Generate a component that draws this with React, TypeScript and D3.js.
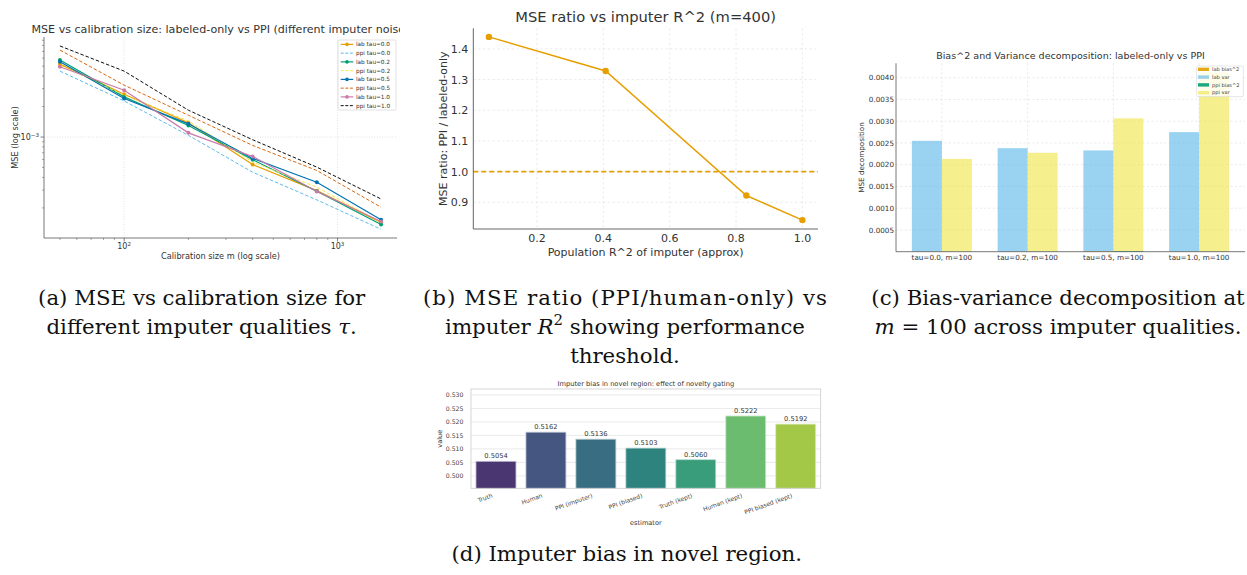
import * as React from 'react';
import * as d3 from 'd3';

// (a) MSE vs calibration size (log-log)
const calibSizes = [50, 100, 200, 400, 800, 1600];
const labTau00 = [0.00524, 0.00264, 0.00138, 0.000536, 0.000296, 0.000144];
const ppiTau00 = [0.00447, 0.00227, 0.00104, 0.00045, 0.00024, 0.000123];
const labTau02 = [0.00574, 0.00249, 0.0013, 0.000597, 0.000292, 0.000137];
const ppiTau02 = [0.00512, 0.00259, 0.00144, 0.000566, 0.00032, 0.000144];
const labTau05 = [0.00553, 0.0024, 0.00135, 0.000615, 0.000358, 0.000153];
const ppiTau05 = [0.00721, 0.00325, 0.00164, 0.000827, 0.000468, 0.000203];
const labTau10 = [0.00493, 0.0029, 0.0011, 0.000644, 0.00029, 0.000147];
const ppiTau10 = [0.00791, 0.00447, 0.00184, 0.000941, 0.000505, 0.000245];
const seriesLabelsA = [
  'lab tau=0.0', 'ppi tau=0.0', 'lab tau=0.2', 'ppi tau=0.2',
  'lab tau=0.5', 'ppi tau=0.5', 'lab tau=1.0', 'ppi tau=1.0',
];

// (b) MSE ratio vs imputer R^2
const r2Values = [0.055, 0.407, 0.831, 1.0];
const mseRatio = [1.439, 1.328, 0.922, 0.842];
const ratioXTicks = [0.2, 0.4, 0.6, 0.8, 1.0];
const ratioYTicks = [0.9, 1.0, 1.1, 1.2, 1.3, 1.4];

// (c) bias^2 / variance decomposition at m=100
const decompCategories = ['tau=0.0, m=100', 'tau=0.2, m=100', 'tau=0.5, m=100', 'tau=1.0, m=100'];
const labBias2 = [0.000003, 0.000002, 0.000012, 0.000004];
const labVar = [0.002546, 0.002378, 0.002316, 0.002745];
const ppiBias2 = [0.000002, 0.000004, 0.000015, 0.000003];
const ppiVar = [0.002132, 0.00227, 0.003051, 0.00412];
const decompLabels = ['lab bias^2', 'lab var', 'ppi bias^2', 'ppi var'];
const decompYTicks = [0.0005, 0.001, 0.0015, 0.002, 0.0025, 0.003, 0.0035, 0.004];

// (d) imputer bias in novel region
const estimators = ['Truth', 'Human', 'PPI (imputer)', 'PPI (biased)', 'Truth (kept)', 'Human (kept)', 'PPI biased (kept)'];
const estimateValues = [0.5054, 0.5162, 0.5136, 0.5103, 0.506, 0.5222, 0.5192];
const estimateYTicks = [0.5, 0.505, 0.51, 0.515, 0.52, 0.525, 0.53];

const OKABE = ['#E69F00', '#56B4E9', '#009E73', '#F0E442', '#0072B2', '#D55E00', '#CC79A7', '#000000'];
// seaborn viridis(7) with 0.75 saturation
const VIRIDIS_MUTED = ['#4a3771', '#455681', '#386d82', '#2f837f', '#399d7b', '#6bbc6e', '#a3c746'];

const SANS = "'DejaVu Sans', sans-serif";
const SERIF = "'DejaVu Serif', serif";
const TEXT = '#333333';
const SPINE = '#555555';

type G = d3.Selection<SVGGElement, unknown, null, undefined>;

function supText(g: G, x: number, y: number, base: string, sup: string, size: number, anchor: string) {
  const t = g.append('text')
    .attr('x', x).attr('y', y)
    .attr('text-anchor', anchor)
    .style('font-size', `${size}px`)
    .attr('fill', TEXT);
  t.append('tspan').text(base);
  t.append('tspan').attr('dy', -size * 0.42).style('font-size', `${size * 0.7}px`).text(sup);
}

function drawPanelA(g: G) {
  const L = 44, R = 397, T = 37, B = 238;
  const x = d3.scaleLog().domain([42.1, 1900]).range([L, R]);
  const y = d3.scaleLog().domain([1.01e-4, 9.7e-3]).range([B, T]);

  // grid
  const grid = g.append('g')
    .attr('stroke', '#cfcfcf').attr('stroke-width', 0.6).attr('stroke-dasharray', '1,1.6');
  [100, 1000].forEach((v) => grid.append('line').attr('x1', x(v)).attr('x2', x(v)).attr('y1', T).attr('y2', B));
  grid.append('line').attr('x1', L).attr('x2', R).attr('y1', y(1e-3)).attr('y2', y(1e-3));

  // series
  const all = [labTau00, ppiTau00, labTau02, ppiTau02, labTau05, ppiTau05, labTau10, ppiTau10];
  const line = d3.line<number>().x((_, j) => x(calibSizes[j])).y((d) => y(d));
  all.forEach((vals, i) => {
    const isLab = i % 2 === 0;
    g.append('path')
      .attr('d', line(vals) || '')
      .attr('fill', 'none')
      .attr('stroke', OKABE[i])
      .attr('stroke-width', isLab ? 1.2 : 0.95)
      .attr('stroke-dasharray', isLab ? null : '3.5,2');
    if (isLab) {
      g.selectAll(null).data(vals).enter().append('circle')
        .attr('cx', (_, j) => x(calibSizes[j]))
        .attr('cy', (d) => y(d))
        .attr('r', 2)
        .attr('fill', OKABE[i]);
    }
  });

  // spines
  g.append('line').attr('x1', L).attr('x2', L).attr('y1', T).attr('y2', B).attr('stroke', SPINE).attr('stroke-width', 0.8);
  g.append('line').attr('x1', L).attr('x2', R).attr('y1', B).attr('y2', B).attr('stroke', SPINE).attr('stroke-width', 0.8);

  // ticks
  const minorX = d3.range(2, 10).flatMap((k) => [k * 10, k * 100, k * 1000]).filter((v) => v > 42.1 && v < 1900);
  const minorY = d3.range(2, 10).flatMap((k) => [k * 1e-4, k * 1e-3]).filter((v) => v > 1.01e-4 && v < 9.7e-3);
  minorX.forEach((v) => g.append('line').attr('x1', x(v)).attr('x2', x(v)).attr('y1', B).attr('y2', B + 2).attr('stroke', SPINE).attr('stroke-width', 0.5));
  [100, 1000].forEach((v) => g.append('line').attr('x1', x(v)).attr('x2', x(v)).attr('y1', B).attr('y2', B + 3.5).attr('stroke', SPINE).attr('stroke-width', 0.7));
  minorY.forEach((v) => g.append('line').attr('x1', L - 2).attr('x2', L).attr('y1', y(v)).attr('y2', y(v)).attr('stroke', SPINE).attr('stroke-width', 0.5));
  g.append('line').attr('x1', L - 3.5).attr('x2', L).attr('y1', y(1e-3)).attr('y2', y(1e-3)).attr('stroke', SPINE).attr('stroke-width', 0.7);

  supText(g, x(100), B + 11, '10', '2', 8, 'middle');
  supText(g, x(1000), B + 11, '10', '3', 8, 'middle');
  supText(g, L - 5, y(1e-3) + 3, '10', '\u22123', 8, 'end');

  // labels (title runs past the panel edge and is cut there)
  const clip = g.append('clipPath').attr('id', 'clip-a');
  clip.append('rect').attr('x', 0).attr('y', 0).attr('width', 400).attr('height', 270);
  g.append('text')
    .attr('clip-path', 'url(#clip-a)')
    .attr('x', (L + R) / 2).attr('y', 33)
    .attr('text-anchor', 'middle').style('font-size', '11.1px').attr('fill', TEXT)
    .text('MSE vs calibration size: labeled-only vs PPI (different imputer noise)');
  g.append('text')
    .attr('x', (L + R) / 2).attr('y', 259)
    .attr('text-anchor', 'middle').style('font-size', '8.2px').attr('fill', TEXT)
    .text('Calibration size m (log scale)');
  g.append('text')
    .attr('transform', `translate(18,${(T + B) / 2}) rotate(-90)`)
    .attr('text-anchor', 'middle').style('font-size', '8.2px').attr('fill', TEXT)
    .text('MSE (log scale)');

  // legend
  const lg = g.append('g');
  lg.append('rect').attr('x', 338).attr('y', 40).attr('width', 58).attr('height', 70).attr('rx', 1.5)
    .attr('fill', 'white').attr('fill-opacity', 0.8).attr('stroke', '#cccccc').attr('stroke-width', 0.6);
  seriesLabelsA.forEach((label, i) => {
    const cy = 44.4 + i * 8.75;
    const isLab = i % 2 === 0;
    lg.append('line').attr('x1', 340.7).attr('x2', 353.3).attr('y1', cy).attr('y2', cy)
      .attr('stroke', OKABE[i]).attr('stroke-width', isLab ? 1.2 : 0.95)
      .attr('stroke-dasharray', isLab ? null : '3,1.6');
    if (isLab) lg.append('circle').attr('cx', 347).attr('cy', cy).attr('r', 1.8).attr('fill', OKABE[i]);
    lg.append('text').attr('x', 356).attr('y', cy).attr('dy', '0.35em')
      .style('font-size', '5.75px').attr('fill', TEXT).text(label);
  });
}

function drawPanelB(g: G) {
  const L = 473.3, R = 818, T = 28.3, B = 229;
  const x = d3.scaleLinear().domain([0.008, 1.047]).range([L, R]);
  const y = d3.scaleLinear().domain([0.813, 1.467]).range([B, T]);

  const grid = g.append('g').attr('stroke', '#dddddd').attr('stroke-width', 0.6).attr('stroke-dasharray', '2.4,2.4');
  ratioXTicks.forEach((v) => grid.append('line').attr('x1', x(v)).attr('x2', x(v)).attr('y1', T).attr('y2', B));
  ratioYTicks.forEach((v) => grid.append('line').attr('x1', L).attr('x2', R).attr('y1', y(v)).attr('y2', y(v)));

  // reference line at 1
  g.append('line').attr('x1', L).attr('x2', R).attr('y1', y(1)).attr('y2', y(1))
    .attr('stroke', OKABE[0]).attr('stroke-width', 1.6).attr('stroke-dasharray', '5,3');

  const line = d3.line<number>().x((_, j) => x(r2Values[j])).y((d) => y(d));
  g.append('path').attr('d', line(mseRatio) || '').attr('fill', 'none').attr('stroke', OKABE[0]).attr('stroke-width', 1.5);
  g.selectAll(null).data(mseRatio).enter().append('circle')
    .attr('cx', (_, j) => x(r2Values[j])).attr('cy', (d) => y(d)).attr('r', 3.2).attr('fill', OKABE[0]);

  g.append('line').attr('x1', L).attr('x2', L).attr('y1', T).attr('y2', B).attr('stroke', SPINE).attr('stroke-width', 0.9);
  g.append('line').attr('x1', L).attr('x2', R).attr('y1', B).attr('y2', B).attr('stroke', SPINE).attr('stroke-width', 0.9);

  ratioXTicks.forEach((v) => g.append('text').attr('x', x(v)).attr('y', B + 13.3)
    .attr('text-anchor', 'middle').style('font-size', '11px').attr('fill', TEXT).text(d3.format('.1f')(v)));
  ratioYTicks.forEach((v) => g.append('text').attr('x', L - 5).attr('y', y(v)).attr('dy', '0.36em')
    .attr('text-anchor', 'end').style('font-size', '11px').attr('fill', TEXT).text(d3.format('.1f')(v)));

  g.append('text').attr('x', (L + R) / 2).attr('y', 22)
    .attr('text-anchor', 'middle').style('font-size', '14.7px').attr('fill', TEXT)
    .text('MSE ratio vs imputer R^2 (m=400)');
  g.append('text').attr('x', (L + R) / 2).attr('y', 255.5)
    .attr('text-anchor', 'middle').style('font-size', '11px').attr('fill', TEXT)
    .text('Population R^2 of imputer (approx)');
  g.append('text').attr('transform', `translate(447.2,${(T + B) / 2}) rotate(-90)`)
    .attr('text-anchor', 'middle').style('font-size', '11px').attr('fill', TEXT)
    .text('MSE ratio: PPI / labeled-only');
}

function drawPanelC(g: G) {
  const L = 896, R = 1245, T = 63.3, B = 251.7;
  const x = d3.scaleLinear().domain([-0.535, decompCategories.length - 1 + 0.535]).range([L, R]);
  const y = d3.scaleLinear().domain([0, 0.004331]).range([B, T]);
  const w = 0.35;

  const grid = g.append('g').attr('stroke', '#dddddd').attr('stroke-width', 0.6).attr('stroke-dasharray', '2.2,2.2');
  decompCategories.forEach((_, i) => grid.append('line').attr('x1', x(i)).attr('x2', x(i)).attr('y1', T).attr('y2', B));
  decompYTicks.forEach((v) => grid.append('line').attr('x1', L).attr('x2', R).attr('y1', y(v)).attr('y2', y(v)));

  const groups = [
    { vals: labBias2, base: null as number[] | null, off: -w, color: OKABE[0], op: 0.9 },
    { vals: labVar, base: labBias2, off: -w, color: OKABE[1], op: 0.6 },
    { vals: ppiBias2, base: null as number[] | null, off: 0, color: OKABE[2], op: 0.9 },
    { vals: ppiVar, base: ppiBias2, off: 0, color: OKABE[3], op: 0.6 },
  ];
  groups.forEach((s) => {
    g.selectAll(null).data(s.vals).enter().append('rect')
      .attr('x', (_, i) => x(i + s.off))
      .attr('width', x(w) - x(0))
      .attr('y', (d, i) => y(d + (s.base ? s.base[i] : 0)))
      .attr('height', (d, i) => y(s.base ? s.base[i] : 0) - y(d + (s.base ? s.base[i] : 0)))
      .attr('fill', s.color).attr('fill-opacity', s.op);
  });

  g.append('line').attr('x1', L).attr('x2', L).attr('y1', T).attr('y2', B).attr('stroke', SPINE).attr('stroke-width', 0.8);
  g.append('line').attr('x1', L).attr('x2', R).attr('y1', B).attr('y2', B).attr('stroke', SPINE).attr('stroke-width', 0.8);

  decompCategories.forEach((c, i) => g.append('text').attr('x', x(i)).attr('y', B + 8.6)
    .attr('text-anchor', 'middle').style('font-size', '7.2px').attr('fill', TEXT).text(c));
  decompYTicks.forEach((v) => g.append('text').attr('x', L - 2).attr('y', y(v)).attr('dy', '0.36em')
    .attr('text-anchor', 'end').style('font-size', '7.2px').attr('fill', TEXT).text(d3.format('.4f')(v)));

  g.append('text').attr('x', (L + R) / 2).attr('y', 59)
    .attr('text-anchor', 'middle').style('font-size', '9.55px').attr('fill', TEXT)
    .text('Bias^2 and Variance decomposition: labeled-only vs PPI');
  g.append('text').attr('transform', `translate(864,${(T + B) / 2}) rotate(-90)`)
    .attr('text-anchor', 'middle').style('font-size', '7.2px').attr('fill', TEXT)
    .text('MSE decomposition');

  // legend
  const lg = g.append('g');
  lg.append('rect').attr('x', 1196.7).attr('y', 66).attr('width', 46.6).attr('height', 30.7).attr('rx', 1)
    .attr('fill', 'white').attr('fill-opacity', 0.8).attr('stroke', '#cccccc').attr('stroke-width', 0.5);
  decompLabels.forEach((label, i) => {
    const cy = 69.3 + i * 7.8;
    lg.append('rect').attr('x', 1198).attr('y', cy - 1.7).attr('width', 11).attr('height', 3.4)
      .attr('fill', groups[i].color).attr('fill-opacity', groups[i].op);
    lg.append('text').attr('x', 1212).attr('y', cy).attr('dy', '0.35em')
      .style('font-size', '5.1px').attr('fill', TEXT).text(label);
  });
}

function drawPanelD(g: G) {
  const L = 471, R = 820.7, T = 389, B = 488.3;
  const x = d3.scaleBand<string>().domain(estimators).range([L, R]).paddingInner(0.2).paddingOuter(0.1);
  const y = d3.scaleLinear().domain([0.4954, 0.5322]).range([B, T]);

  g.append('g').selectAll('line').data(estimateYTicks).enter().append('line')
    .attr('x1', L).attr('x2', R).attr('y1', (d) => y(d)).attr('y2', (d) => y(d))
    .attr('stroke', '#e4e4e4').attr('stroke-width', 0.8);

  g.selectAll(null).data(estimateValues).enter().append('rect')
    .attr('x', (_, i) => x(estimators[i]) as number)
    .attr('width', x.bandwidth())
    .attr('y', (d) => y(d))
    .attr('height', (d) => B - y(d))
    .attr('fill', (_, i) => VIRIDIS_MUTED[i])
    .attr('stroke', (_, i) => d3.interpolateRgb(VIRIDIS_MUTED[i], '#ffffff')(0.65))
    .attr('stroke-width', 0.8);

  g.selectAll(null).data(estimateValues).enter().append('text')
    .attr('x', (_, i) => (x(estimators[i]) as number) + x.bandwidth() / 2)
    .attr('y', (d) => y(d) - 3)
    .attr('text-anchor', 'middle').style('font-size', '6.7px').attr('fill', TEXT)
    .text((d) => d3.format('.4f')(d));

  g.append('rect').attr('x', L).attr('y', T).attr('width', R - L).attr('height', B - T)
    .attr('fill', 'none').attr('stroke', '#cccccc').attr('stroke-width', 0.8);

  estimateYTicks.forEach((v) => g.append('text').attr('x', L - 7.5).attr('y', y(v)).attr('dy', '0.36em')
    .attr('text-anchor', 'end').style('font-size', '6.2px').attr('fill', '#444').text(d3.format('.3f')(v)));
  estimators.forEach((c) => {
    const cx = (x(c) as number) + x.bandwidth() / 2 - 3;
    g.append('text').attr('transform', `translate(${cx},${B + 9}) rotate(-20)`)
      .attr('text-anchor', 'end').style('font-size', '6px').attr('fill', '#444').text(c);
  });

  g.append('text').attr('x', (L + R) / 2).attr('y', 386.3)
    .attr('text-anchor', 'middle').style('font-size', '6.7px').attr('fill', TEXT)
    .text('Imputer bias in novel region: effect of novelty gating');
  g.append('text').attr('x', (L + R) / 2).attr('y', 524.6)
    .attr('text-anchor', 'middle').style('font-size', '6.6px').attr('fill', TEXT)
    .text('estimator');
  g.append('text').attr('transform', `translate(441.6,${(T + B) / 2}) rotate(-90)`)
    .attr('text-anchor', 'middle').style('font-size', '6.6px').attr('fill', TEXT)
    .text('value');
}

interface Seg { t: string; it?: boolean; sup?: boolean }

const CAPTIONS: { x: number; lines: { y: number; width?: number; segs: Seg[] }[] }[] = [
  { x: 201.7, lines: [
    { y: 305, segs: [{ t: '(a) MSE vs calibration size for' }] },
    { y: 334, segs: [{ t: 'different imputer qualities ' }, { t: '\u03c4', it: true }, { t: '.' }] },
  ] },
  { x: 625, lines: [
    { y: 305, width: 404, segs: [{ t: '(b) MSE ratio (PPI/human-only) vs' }] },
    { y: 334, segs: [{ t: 'imputer ' }, { t: 'R', it: true }, { t: '2', sup: true }, { t: ' showing performance' }] },
    { y: 362.5, segs: [{ t: 'threshold.' }] },
  ] },
  { x: 1058, lines: [
    { y: 305, segs: [{ t: '(c) Bias-variance decomposition at' }] },
    { y: 334, segs: [{ t: 'm', it: true }, { t: ' = 100 across imputer qualities.' }] },
  ] },
  { x: 626.7, lines: [
    { y: 561, segs: [{ t: '(d) Imputer bias in novel region.' }] },
  ] },
];

function drawCaptions(g: G) {
  const size = 21.3;
  CAPTIONS.forEach((c) => {
    c.lines.forEach((ln) => {
      const t = g.append('text').attr('x', c.x).attr('y', ln.y)
        .attr('text-anchor', 'middle')
        .style('font-family', SERIF).style('font-size', `${size}px`).attr('fill', '#111');
      if (ln.width) t.attr('textLength', ln.width).attr('lengthAdjust', 'spacing');
      let shifted = 0;
      ln.segs.forEach((s) => {
        const sp = t.append('tspan').text(s.t);
        if (s.it) sp.style('font-style', 'italic');
        if (s.sup) {
          sp.attr('dy', -size * 0.4).style('font-size', `${size * 0.7}px`);
          shifted = size * 0.4;
        } else if (shifted) {
          sp.attr('dy', shifted);
          shifted = 0;
        }
      });
    });
  });
}

export default function App() {
  const ref = React.useRef<SVGSVGElement>(null);

  React.useEffect(() => {
    const svgEl = ref.current;
    if (!svgEl) return;
    const svg = d3.select(svgEl);
    svg.selectAll('*').remove();
    const root = svg.append('g').style('font-family', SANS) as unknown as G;
    drawPanelA(root.append('g'));
    drawPanelB(root.append('g'));
    drawPanelC(root.append('g'));
    drawPanelD(root.append('g'));
    drawCaptions(root.append('g'));
    return () => {
      svg.selectAll('*').remove();
    };
  }, []);

  return (
    <svg
      ref={ref}
      width={1247}
      height={575}
      viewBox="0 0 1247 575"
      style={{ position: 'absolute', left: 0, top: 0, background: 'white' }}
    />
  );
}
